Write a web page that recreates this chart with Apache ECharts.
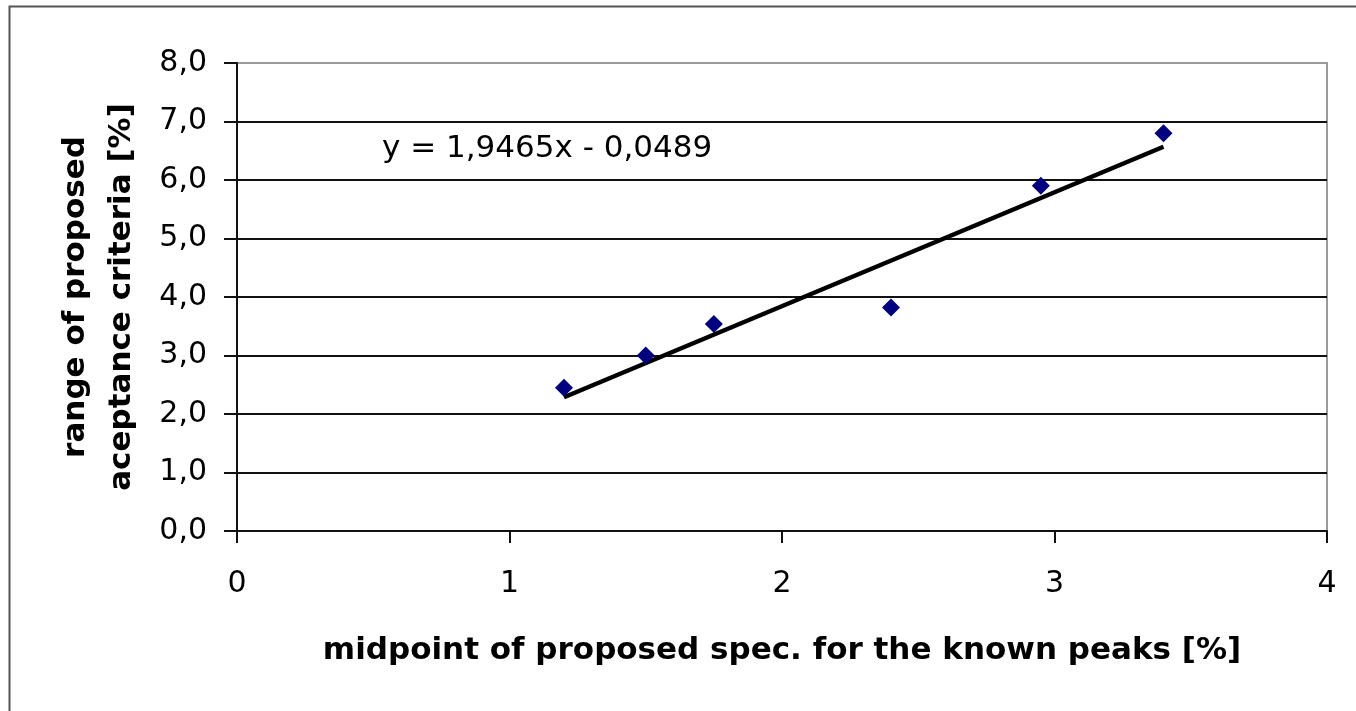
<!DOCTYPE html>
<html>
<head>
<meta charset="utf-8">
<script src="https://cdn.jsdelivr.net/npm/echarts@6/dist/echarts.min.js"></script>
<style>
html,body{margin:0;padding:0;background:#fff;}
#chart{width:1356px;height:711px;}
</style>
</head>
<body>
<div id="chart"></div>
<script>
// Data
const xValues = [1.2, 1.5, 1.75, 2.4, 2.95, 3.4];
const yValues = [2.45, 3.0, 3.54, 3.82, 5.9, 6.8];
const trendCoefficients = [1.9465, -0.0489]; // slope, intercept
const trendLabel = 'y = 1,9465x - 0,0489';
const xTickLabels = ['0', '1', '2', '3', '4'];
const yTickLabels = ['0,0', '1,0', '2,0', '3,0', '4,0', '5,0', '6,0', '7,0', '8,0'];
const xAxisTitle = 'midpoint of proposed spec. for the known peaks [%]';
const yAxisTitle = ['range of proposed', 'aceptance criteria [%]'];

const points = xValues.map((x, i) => [x, yValues[i]]);
const xMinData = Math.min(...xValues), xMaxData = Math.max(...xValues);
const trendData = [xMinData, xMaxData].map(x => [x, trendCoefficients[0] * x + trendCoefficients[1]]);

const FONT = 'DejaVu Sans';
const chart = echarts.init(document.getElementById('chart'), null, {renderer: 'canvas'});
const gridColors = yTickLabels.map((_, i) => i === yTickLabels.length - 1 ? '#9a9a9a' : '#111');

chart.setOption({
  animation: false,
  backgroundColor: '#fff',
  grid: {
    left: 237, right: 29, top: 63, bottom: 180,
    show: true, borderColor: '#9a9a9a', borderWidth: 2, backgroundColor: 'transparent'
  },
  graphic: [
    {
      type: 'rect', left: 7, top: 4, z: -1, silent: true,
      shape: {width: 1400, height: 760},
      style: {fill: 'none', stroke: '#555', lineWidth: 2}
    },
    {
      type: 'text', left: 382, top: 133, z: 10,
      style: {text: trendLabel, font: '31px "DejaVu Sans"', fill: '#000'}
    }
  ],
  xAxis: {
    type: 'value', min: 0, max: 4, interval: 1,
    name: xAxisTitle, nameLocation: 'middle', nameGap: 104,
    nameTextStyle: {fontFamily: FONT, fontWeight: 'bold', fontSize: 31, color: '#000'},
    axisLine: {show: true, onZero: false, lineStyle: {color: '#111', width: 2}},
    axisTick: {show: true, inside: false, length: 12, lineStyle: {color: '#111', width: 2}},
    axisLabel: {
      margin: 38, fontFamily: FONT, fontSize: 30, color: '#000',
      formatter: v => xTickLabels[Math.round(v)]
    },
    splitLine: {show: false}
  },
  yAxis: {
    type: 'value', min: 0, max: 8, interval: 1,
    name: yAxisTitle.join('\n'), nameLocation: 'middle', nameGap: 92, nameRotate: 90,
    nameTextStyle: {fontFamily: FONT, fontWeight: 'bold', fontSize: 31, color: '#000', lineHeight: 46, align: 'center'},
    axisLine: {show: true, lineStyle: {color: '#111', width: 2}},
    axisTick: {show: true, inside: false, length: 13, lineStyle: {color: '#111', width: 2}},
    axisLabel: {
      margin: 30, fontFamily: FONT, fontSize: 30, color: '#000',
      formatter: v => yTickLabels[Math.round(v)]
    },
    splitLine: {show: true, lineStyle: {color: gridColors, width: 2}}
  },
  series: [
    {
      type: 'line', data: trendData, showSymbol: false, symbol: 'none',
      lineStyle: {color: '#000', width: 4.5}, z: 3, silent: true
    },
    {
      type: 'scatter', data: points, symbol: 'diamond', symbolSize: 18,
      itemStyle: {color: '#000080', opacity: 1}, z: 4
    }
  ]
});
</script>
</body>
</html>
